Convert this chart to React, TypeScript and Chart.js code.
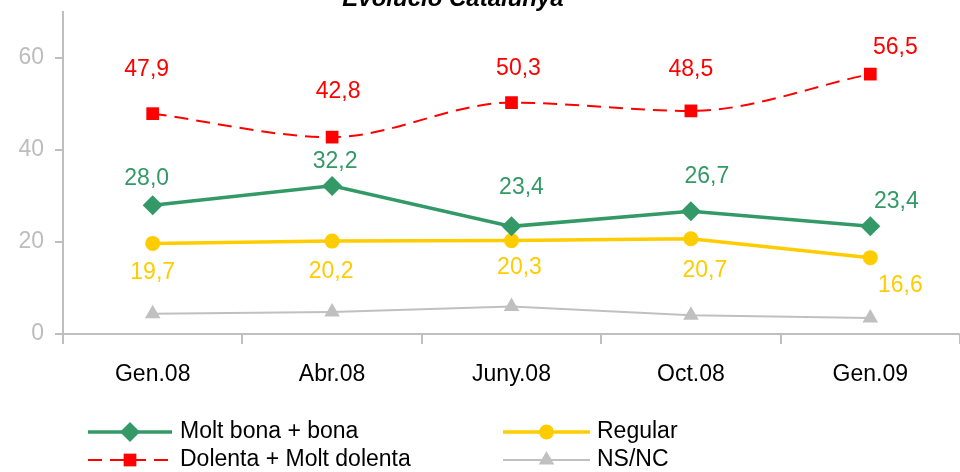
import React, { useEffect, useRef } from 'react';
import { Chart, registerables } from 'chart.js';
import { drawPoint } from 'chart.js/helpers';

Chart.register(...registerables);

const title = 'Evolució Catalunya';
const categories = ['Gen.08', 'Abr.08', 'Juny.08', 'Oct.08', 'Gen.09'];
const bona = [28.0, 32.2, 23.4, 26.7, 23.4];
const regular = [19.7, 20.2, 20.3, 20.7, 16.6];
const dolenta = [47.9, 42.8, 50.3, 48.5, 56.5];
const nsnc = [4.4, 4.8, 6.0, 4.1, 3.5];
const yTicks = [0, 20, 40, 60];
const seriesNames = ['Molt bona + bona', 'Regular', 'Dolenta + Molt dolenta', 'NS/NC'];

const FONT = '"Liberation Sans", Arial, sans-serif';
const GREEN = '#339966';
const YELLOW = '#FFCC00';
const RED = '#FF0000';
const GRAY = '#C0C0C0';
const AXIS = '#BFBFBF';

const fmt = (v: number) => v.toFixed(1).replace('.', ',');

const labelPlugin = {
  id: 'valueLabels',
  afterDatasetsDraw(chart: any) {
    const ctx = chart.ctx;
    ctx.save();
    ctx.font = `23px ${FONT}`;
    ctx.textAlign = 'center';
    ctx.textBaseline = 'middle';
    chart.data.datasets.forEach((ds: any, di: number) => {
      if (!ds.labelOffsets) return;
      const meta = chart.getDatasetMeta(di);
      ctx.fillStyle = ds.borderColor;
      meta.data.forEach((pt: any, i: number) => {
        const off = ds.labelOffsets[i];
        ctx.fillText(fmt(ds.data[i]), pt.x + off[0], pt.y + off[1]);
      });
    });
    ctx.restore();
  },
};

const legendSlots = [
  { x1: 88, x2: 172, y: 432, tx: 180 },
  { x1: 503, x2: 590, y: 432, tx: 597 },
  { x1: 88, x2: 172, y: 460, tx: 180 },
  { x1: 503, x2: 590, y: 460, tx: 597 },
];

const decorPlugin = {
  id: 'decor',
  afterDraw(chart: any) {
    const ctx = chart.ctx;
    ctx.save();
    // title (cut off at the top, as in the reference)
    ctx.font = `italic bold 24px ${FONT}`;
    ctx.fillStyle = '#000';
    ctx.textAlign = 'center';
    ctx.textBaseline = 'alphabetic';
    ctx.fillText(title, 453, 6);

    // legend
    chart.data.datasets.forEach((ds: any, i: number) => {
      const s = legendSlots[i];
      ctx.save();
      ctx.strokeStyle = ds.borderColor;
      ctx.lineWidth = ds.borderWidth;
      ctx.setLineDash(ds.borderDash || []);
      ctx.beginPath();
      ctx.moveTo(s.x1, s.y);
      ctx.lineTo(s.x2, s.y);
      ctx.stroke();
      ctx.setLineDash([]);
      ctx.fillStyle = ds.pointBackgroundColor;
      ctx.strokeStyle = ds.pointBackgroundColor;
      drawPoint(ctx, { pointStyle: ds.pointStyle, radius: ds.pointRadius, rotation: 0, borderWidth: 0 }, (s.x1 + s.x2) / 2, s.y);
      ctx.restore();
      ctx.font = `23px ${FONT}`;
      ctx.fillStyle = '#000';
      ctx.textAlign = 'left';
      ctx.textBaseline = 'middle';
      ctx.fillText(ds.label, s.tx, s.y);
    });
    ctx.restore();
  },
};

export default function App() {
  const canvasRef = useRef<HTMLCanvasElement>(null);

  useEffect(() => {
    const canvas = canvasRef.current;
    if (!canvas) return;
    const chart = new Chart(canvas, {
      type: 'line',
      data: {
        labels: categories,
        datasets: [
          {
            label: seriesNames[0],
            data: bona,
            borderColor: GREEN,
            backgroundColor: GREEN,
            pointBackgroundColor: GREEN,
            borderWidth: 3.5,
            pointStyle: 'rectRot',
            pointRadius: 10,
            pointBorderWidth: 0,
            tension: 0,
            labelOffsets: [[-6, -27], [3, -24], [10, -39], [16, -35], [26, -25]],
          } as any,
          {
            label: seriesNames[1],
            data: regular,
            borderColor: YELLOW,
            backgroundColor: YELLOW,
            pointBackgroundColor: YELLOW,
            borderWidth: 3.5,
            pointStyle: 'circle',
            pointRadius: 7.5,
            pointBorderWidth: 0,
            tension: 0,
            labelOffsets: [[0, 29], [-1, 31], [8, 27], [14, 32], [30, 28]],
          } as any,
          {
            label: seriesNames[2],
            data: dolenta,
            borderColor: RED,
            backgroundColor: RED,
            pointBackgroundColor: RED,
            borderWidth: 2,
            borderDash: [14, 8],
            pointStyle: 'rect',
            pointRadius: 9,
            pointBorderWidth: 0,
            tension: 0.3,
            cubicInterpolationMode: 'monotone',
            labelOffsets: [[-6, -44], [6, -45], [7, -34], [0, -41], [25, -26]],
          } as any,
          {
            label: seriesNames[3],
            data: nsnc,
            borderColor: GRAY,
            backgroundColor: GRAY,
            pointBackgroundColor: GRAY,
            borderWidth: 2,
            pointStyle: 'triangle',
            pointRadius: 9,
            pointBorderWidth: 0,
            tension: 0,
          } as any,
        ],
      },
      options: {
        animation: false,
        responsive: false,
        maintainAspectRatio: false,
        devicePixelRatio: 1,
        layout: { padding: { top: 12, right: -15, bottom: 0, left: 0 } },
        plugins: {
          legend: { display: false },
          title: { display: false },
          tooltip: { enabled: false },
        },
        scales: {
          x: {
            type: 'category',
            offset: true,
            grid: {
              offset: true,
              drawOnChartArea: false,
              drawTicks: true,
              tickLength: 10,
              color: AXIS,
              lineWidth: 2,
            },
            border: { color: AXIS, width: 2 },
            ticks: {
              color: '#000',
              font: { family: FONT, size: 23 },
              padding: 17,
              maxRotation: 0,
              autoSkip: false,
            },
            afterFit: (scale: any) => {
              scale.height = 138;
              scale.paddingLeft = 0;
              scale.paddingRight = 0;
            },
          },
          y: {
            min: 0,
            max: 70,
            grid: {
              drawOnChartArea: false,
              drawTicks: true,
              tickLength: 8,
              color: AXIS,
              lineWidth: 2,
            },
            border: { color: AXIS, width: 2 },
            ticks: {
              stepSize: 20,
              color: '#BDBDBD',
              font: { family: FONT, size: 23 },
              padding: 11,
            },
            afterBuildTicks: (scale: any) => {
              scale.ticks = yTicks.map((v) => ({ value: v }));
            },
            afterFit: (scale: any) => {
              scale.width = 63;
              scale.paddingTop = 0;
              scale.paddingBottom = 0;
            },
          },
        },
      },
      plugins: [labelPlugin, decorPlugin],
    });
    return () => chart.destroy();
  }, []);

  return (
    <div style={{ position: 'fixed', left: 0, top: 0, width: 960, height: 472, overflow: 'hidden', background: '#fff' }}>
      <canvas
        ref={canvasRef}
        width={970}
        height={472}
        style={{ display: 'block', width: 970, height: 472 }}
      />
    </div>
  );
}
